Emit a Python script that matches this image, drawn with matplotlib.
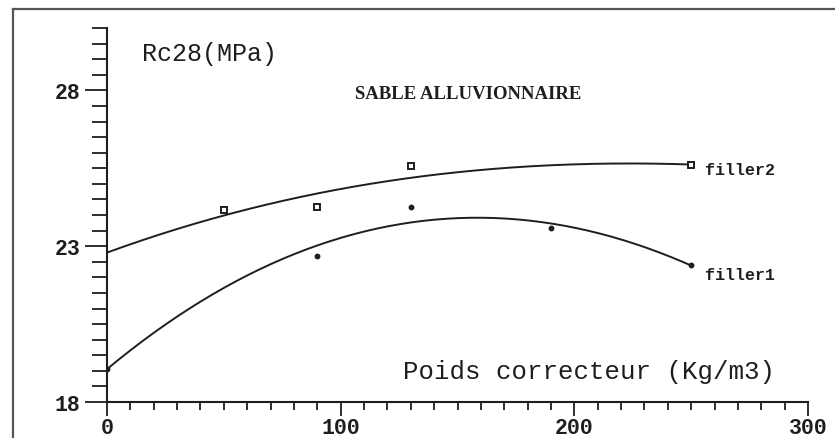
import numpy as np
import matplotlib.pyplot as plt
from matplotlib.lines import Line2D
from matplotlib.ticker import MultipleLocator

# Compressive strength at 28 days vs. corrector weight (alluvial sand)
filler2_x = [50, 90, 130, 250]
filler2_y = [24.16, 24.26, 25.58, 25.61]

filler1_x = [0, 90, 130, 190, 250]
filler1_y = [19.06, 22.68, 24.26, 23.58, 22.39]

# trend curves
trend_x = [0, 50, 100, 150, 200, 250]
trend2_y = [22.77, 24.06, 24.77, 25.35, 25.68, 25.60]
trend1_y = [19.06, 21.65, 23.25, 23.95, 23.55, 22.39]

x_ticks = [0, 100, 200, 300]
y_ticks = [18, 23, 28]

INK = "#1e1e1e"
MONO = "Liberation Mono"

fig = plt.figure(figsize=(8.35, 4.39), dpi=100)
ax = fig.add_axes([107 / 835, 36 / 439, 701 / 835, 374 / 439])

# smooth trend lines (cubic fit on the read values)
xs = np.linspace(0, 250, 200)
for ty in (trend2_y, trend1_y):
    coef = np.polyfit(trend_x, ty, 3)
    ax.plot(xs, np.polyval(coef, xs), color=INK, lw=1.4)

ax.plot(filler2_x, filler2_y, "s", ms=5, mfc="white", mec=INK, mew=1.4, ls="none")
ax.plot(filler1_x, filler1_y, "o", ms=3.2, color=INK, ls="none")

ax.set_xlim(0, 300)
ax.set_ylim(18, 30)
for side in ("top", "right"):
    ax.spines[side].set_visible(False)
for side in ("left", "bottom"):
    ax.spines[side].set_linewidth(1.5)
    ax.spines[side].set_color(INK)

ax.set_xticks(x_ticks)
ax.set_yticks(y_ticks)
ax.xaxis.set_minor_locator(MultipleLocator(10))
ax.yaxis.set_minor_locator(MultipleLocator(0.5))
ax.tick_params(axis="x", which="major", direction="out", length=10, width=1.3, color=INK, pad=1)
ax.tick_params(axis="x", which="minor", direction="out", length=6, width=1.3, color=INK)
ax.tick_params(axis="y", which="major", direction="out", length=16, width=1.3, color=INK, pad=3)
ax.tick_params(axis="y", which="minor", direction="out", length=11, width=1.3, color=INK)
for lab in ax.get_xticklabels() + ax.get_yticklabels():
    lab.set_fontfamily(MONO)
    lab.set_fontweight("bold")
    lab.set_fontsize(15.5)
    lab.set_color(INK)

# labels written inside the plot
ax.text(15, 29.2, "Rc28(MPa)", family=MONO, fontsize=18, color=INK, va="center")
ax.text(106, 27.9, "SABLE ALLUVIONNAIRE", family="Liberation Serif", fontweight="bold",
        fontsize=13.5, color=INK, va="center")
ax.text(256, 25.45, "filler2", family=MONO, fontweight="bold", fontsize=12, color=INK, va="center")
ax.text(256, 22.1, "filler1", family=MONO, fontweight="bold", fontsize=12, color=INK, va="center")
ax.text(286, 19.0, "Poids correcteur (Kg/m3)", family=MONO, fontsize=18.5, color=INK,
        ha="right", va="center")

# outer frame (left and top edges)
fig.add_artist(Line2D([13 / 835, 13 / 835], [0, 1 - 10 / 439], transform=fig.transFigure,
                      color="#555555", lw=1.6))
fig.add_artist(Line2D([13 / 835, 1], [1 - 10 / 439, 1 - 10 / 439], transform=fig.transFigure,
                      color="#555555", lw=1.6))

fig.savefig("out.png", dpi=100)
